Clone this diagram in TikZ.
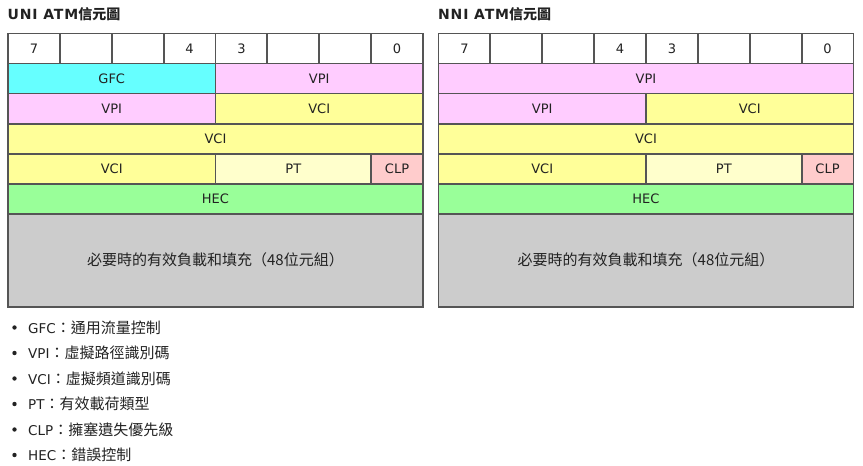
\documentclass[tikz,border=0pt]{standalone}
\usepackage{fontspec}
\setmainfont{DejaVu Sans}
\newfontfamily\cjk{Noto Sans CJK TC}
\newfontfamily\titlefont{DejaVu Sans}[LetterSpace=6]
\definecolor{bordergray}{HTML}{555555}
\definecolor{textgray}{HTML}{222222}
\definecolor{gfccol}{HTML}{66FFFF}
\definecolor{vpicol}{HTML}{FFCCFF}
\definecolor{vcicol}{HTML}{FFFF99}
\definecolor{ptcol}{HTML}{FFFFCC}
\definecolor{clpcol}{HTML}{FFCCCC}
\definecolor{heccol}{HTML}{99FF99}
\definecolor{paycol}{HTML}{CCCCCC}
\newcommand\atmcell[7]{%
  \pgfmathsetmacro\atmcx{(#2+#3)/2}%
  \pgfmathsetmacro\atmcy{(#4+#5)/2}%
  \pgfmathsetmacro\atmcw{#3-#2}%
  \pgfmathsetmacro\atmch{#5-#4}%
  \node[cell, fill=#6, minimum width=\atmcw pt, minimum height=\atmch pt] (#1) at (\atmcx,\atmcy) {#7};}
\newcommand\cjkbig[1]{{\cjk\fontsize{15}{17}\selectfont #1}}
\newcommand\latin[1]{{\fontsize{13.5}{15}\selectfont #1}}
\newcommand\titletext[1]{{\titlefont\bfseries\fontsize{14}{16}\selectfont #1}{\cjk\bfseries\fontsize{14}{16}\selectfont 信元圖}}
\begin{document}
\begin{tikzpicture}[x=1pt,y=-1pt,
  cell/.style={draw=bordergray, line width=1.8pt, inner sep=0pt, outer sep=0pt,
    text=textgray, font=\fontsize{13}{15}\selectfont},
  titlestyle/.style={anchor=base west, inner sep=0pt, text=textgray},
  legtext/.style={anchor=west, inner sep=0pt, text=textgray},
  bullet/.style={circle, fill=textgray, inner sep=0pt, minimum size=4.4pt}]
\useasboundingbox (0,0) rectangle (863,466);
% ---------- titles ----------
\node[titlestyle] (ut) at (7.5,19.5) {\titletext{UNI ATM}};
\node[titlestyle] (nt) at (438,19.5) {\titletext{NNI ATM}};
% ---------- UNI table ----------
\begin{scope}[name prefix=u-]
\foreach \i/\t in {0/7,1/,2/,3/4,4/3,5/,6/,7/0}{
  \pgfmathsetmacro\xa{8+\i*51.875}
  \pgfmathsetmacro\xb{8+(\i+1)*51.875}
  \atmcell{h\i}{\xa}{\xb}{33.5}{63.5}{white}{\t}
}
\atmcell{gfc}{8}{215.5}{63.5}{93.5}{gfccol}{GFC}
\atmcell{vpia}{215.5}{423}{63.5}{93.5}{vpicol}{VPI}
\atmcell{vpib}{8}{215.5}{93.5}{123.7}{vpicol}{VPI}
\atmcell{vcia}{215.5}{423}{93.5}{123.7}{vcicol}{VCI}
\atmcell{vcib}{8}{423}{123.7}{153.8}{vcicol}{VCI}
\atmcell{vcic}{8}{215.5}{153.8}{183.8}{vcicol}{VCI}
\atmcell{pt}{215.5}{371.1}{153.8}{183.8}{ptcol}{PT}
\atmcell{clp}{371.1}{423}{153.8}{183.8}{clpcol}{CLP}
\atmcell{hec}{8}{423}{183.8}{213.8}{heccol}{HEC}
\atmcell{pay}{8}{423}{213.8}{306.7}{paycol}{\cjkbig{必要時的有效負載和填充（48位元組）}}
\end{scope}
% ---------- NNI table ----------
\begin{scope}[name prefix=n-, xshift=430.5pt]
\foreach \i/\t in {0/7,1/,2/,3/4,4/3,5/,6/,7/0}{
  \pgfmathsetmacro\xa{8+\i*51.875}
  \pgfmathsetmacro\xb{8+(\i+1)*51.875}
  \atmcell{h\i}{\xa}{\xb}{33.5}{63.5}{white}{\t}
}
\atmcell{vpia}{8}{423}{63.5}{93.5}{vpicol}{VPI}
\atmcell{vpib}{8}{215.5}{93.5}{123.7}{vpicol}{VPI}
\atmcell{vcia}{215.5}{423}{93.5}{123.7}{vcicol}{VCI}
\atmcell{vcib}{8}{423}{123.7}{153.8}{vcicol}{VCI}
\atmcell{vcic}{8}{215.5}{153.8}{183.8}{vcicol}{VCI}
\atmcell{pt}{215.5}{371.1}{153.8}{183.8}{ptcol}{PT}
\atmcell{clp}{371.1}{423}{153.8}{183.8}{clpcol}{CLP}
\atmcell{hec}{8}{423}{183.8}{213.8}{heccol}{HEC}
\atmcell{pay}{8}{423}{213.8}{306.7}{paycol}{\cjkbig{必要時的有效負載和填充（48位元組）}}
\end{scope}
% ---------- legend ----------
\foreach \k/\y/\a/\b in {1/327.5/GFC/通用流量控制, 2/353/VPI/虛擬路徑識別碼, 3/378.5/VCI/虛擬頻道識別碼,
  4/404/PT/有效載荷類型, 5/429.5/CLP/擁塞遺失優先級, 6/455/HEC/錯誤控制}{
  \node[bullet] (b\k) at (14.5,\y) {};
  \node[legtext] (l\k) at (28,\y) {\latin{\a}\cjkbig{：\b}};
}
\end{tikzpicture}
\end{document}
